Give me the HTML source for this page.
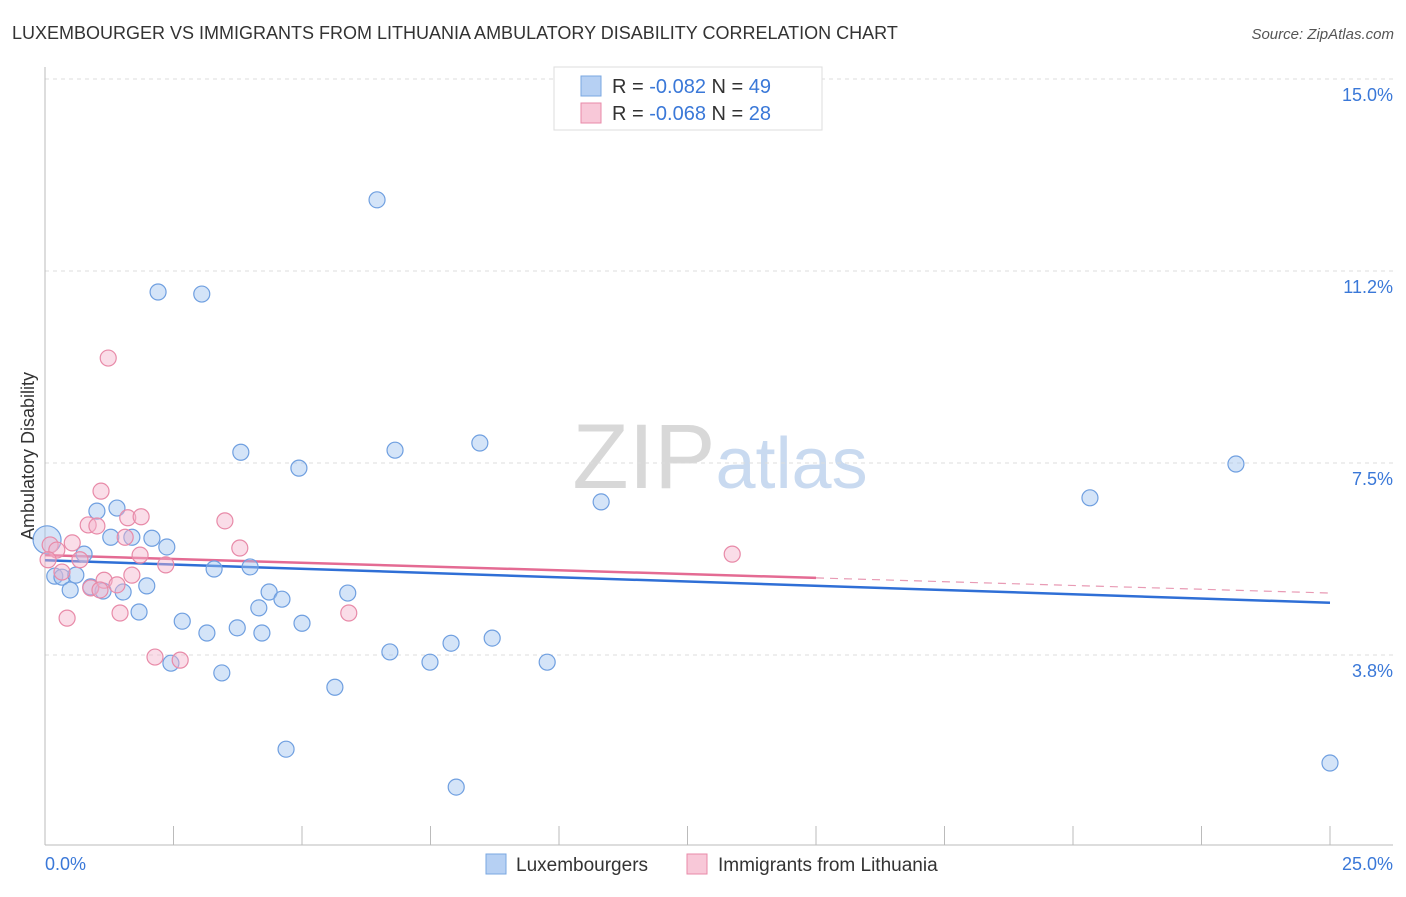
<!DOCTYPE html>
<html><head><meta charset="utf-8"><style>
body{margin:0;background:#fff;font-family:"Liberation Sans",sans-serif;}
svg text{font-family:"Liberation Sans",sans-serif;}
</style></head><body>
<svg id="chart" width="1406" height="892" xmlns="http://www.w3.org/2000/svg">
<text x="12" y="39" font-size="18" fill="#333">LUXEMBOURGER VS IMMIGRANTS FROM LITHUANIA AMBULATORY DISABILITY CORRELATION CHART</text>
<text x="1394" y="39" font-size="15" fill="#555" text-anchor="end" font-style="italic">Source: ZipAtlas.com</text>
<text x="720" y="488" font-size="92" text-anchor="middle" fill="#d8d8d8" font-family="Liberation Serif"><tspan>ZIP</tspan><tspan fill="#c9daf0" font-family="Liberation Sans" font-size="72">atlas</tspan></text>
<text transform="translate(34,456) rotate(-90)" font-size="18" fill="#333" text-anchor="middle">Ambulatory Disability</text>
<g id="grid"></g><g id="axes"></g><g id="trends"></g><g id="points"></g>
<g>
<rect x="554" y="67" width="268" height="63" fill="#fff" stroke="#ddd"/>
<rect x="581" y="76" width="20" height="20" fill="#b6d0f3" stroke="#7aa7e0"/>
<text x="612" y="93" font-size="20" fill="#333">R = <tspan fill="#3a78d8">-0.082</tspan>   N = <tspan fill="#3a78d8">49</tspan></text>
<rect x="581" y="103" width="20" height="20" fill="#f8c8d8" stroke="#e88aa8"/>
<text x="612" y="120" font-size="20" fill="#333">R = <tspan fill="#3a78d8">-0.068</tspan>   N = <tspan fill="#3a78d8">28</tspan></text>
</g>
<g>
<rect x="486" y="854" width="20" height="20" fill="#b6d0f3" stroke="#7aa7e0"/>
<text x="516" y="871" font-size="19" fill="#333">Luxembourgers</text>
<rect x="687" y="854" width="20" height="20" fill="#f8c8d8" stroke="#e88aa8"/>
<text x="718" y="871" font-size="19" fill="#333">Immigrants from Lithuania</text>
</g>
</svg>
<script>
const yTicks=[3.75,7.5,11.25,15];
const yTickLabels=["3.8%","7.5%","11.2%","15.0%"];
const xTickLabels=["0.0%","25.0%"];
const blueX=[0.04,0.19,0.33,0.49,0.60,0.76,0.89,1.01,1.13,1.28,1.40,1.52,1.69,1.83,1.98,2.08,2.20,2.37,2.45,2.67,3.05,3.15,3.29,3.44,3.74,3.81,3.99,4.16,4.22,4.36,4.61,4.69,4.94,5.00,5.64,5.89,6.46,6.71,6.81,7.49,7.90,8.00,8.46,8.70,9.77,10.82,20.33,23.17,25.0];
const blueY=[6.0,5.29,5.27,5.02,5.31,5.72,5.08,6.56,5.00,6.05,6.62,4.98,6.05,4.59,5.10,6.03,10.84,5.86,3.59,4.41,10.80,4.18,5.43,3.40,4.28,7.71,5.47,4.67,4.18,4.98,4.84,1.91,7.40,4.37,3.12,4.96,12.64,3.81,7.75,3.61,3.98,1.17,7.89,4.08,3.61,6.74,6.82,7.48,1.64];
const pinkX=[0.1,0.23,0.33,0.43,0.53,0.68,0.84,0.89,1.01,1.09,1.23,1.15,1.40,1.46,1.61,1.69,1.85,1.87,2.14,2.35,2.63,3.50,3.79,5.91,13.37,1.56,1.07,0.06];
const pinkY=[5.9,5.80,5.37,4.47,5.94,5.61,6.29,5.06,6.27,6.95,9.55,5.21,5.12,4.57,6.43,5.31,5.70,6.45,3.71,5.51,3.65,6.37,5.84,4.57,5.72,6.05,5.02,5.61];
const blueTrend=[5.6,4.77];
const pinkTrend=[5.70,4.96];
const pinkSolidEnd=15.0;
const NS="http://www.w3.org/2000/svg";
const X=v=>45+v/25*1285, Y=v=>847-v*51.2;
function mk(t,a,p){const e=document.createElementNS(NS,t);for(const k in a)e.setAttribute(k,a[k]);p.appendChild(e);return e;}
const grid=document.getElementById('grid'),axes=document.getElementById('axes');
yTicks.forEach((t,i)=>{
 const l=mk('line',{x1:45,x2:1393,y1:Y(t),y2:Y(t),stroke:'#ddd','stroke-dasharray':'4,4'},grid);
 
 
 const tx=mk('text',{x:1393,y:Y(t)+22,'font-size':18,fill:'#3a78d8','text-anchor':'end'},grid);
 tx.textContent=yTickLabels[i];
 
 
});
const ax=mk('line',{x1:45,x2:45,y1:67,y2:845,stroke:'#bbb'},axes);


const bx=mk('line',{x1:45,x2:1393,y1:845,y2:845,stroke:'#bbb'},axes);


for(let i=1;i<=10;i++){const t=mk('line',{x1:X(i*2.5),x2:X(i*2.5),y1:826,y2:845,stroke:'#bbb'},axes);
 
 }
[[0,'start',45],[25,'end',1393]].forEach((d,i)=>{const t=mk('text',{x:d[2],y:870,'font-size':18,fill:'#3a78d8','text-anchor':d[1]},axes);t.textContent=xTickLabels[i];
 
 });
const tr=document.getElementById('trends');
const bl=mk('line',{x1:X(0),y1:Y(blueTrend[0]),x2:X(25),y2:Y(blueTrend[1]),stroke:'#2f6fd6','stroke-width':2.5},tr);


const pAt=v=>pinkTrend[0]+(pinkTrend[1]-pinkTrend[0])*v/25;
const pl=mk('line',{x1:X(0),y1:Y(pAt(0)),x2:X(pinkSolidEnd),y2:Y(pAt(pinkSolidEnd)),stroke:'#e46b93','stroke-width':2.5},tr);


const pd=mk('line',{x1:X(pinkSolidEnd),y1:Y(pAt(pinkSolidEnd)),x2:X(25),y2:Y(pAt(25)),stroke:'#e89ab4','stroke-width':1.2,'stroke-dasharray':'8,6'},tr);


const pts=document.getElementById('points');
blueX.forEach((x,i)=>{const c=mk('circle',{cx:X(x),cy:Y(blueY[i]),r:i===0?14:8,fill:'rgba(160,195,240,0.45)',stroke:'#6f9fe0','stroke-width':1.2},pts);
 
 });
pinkX.forEach((x,i)=>{const c=mk('circle',{cx:X(x),cy:Y(pinkY[i]),r:8,fill:'rgba(245,180,205,0.45)',stroke:'#e88aa8','stroke-width':1.2},pts);
 
 });
</script>
</body></html>
